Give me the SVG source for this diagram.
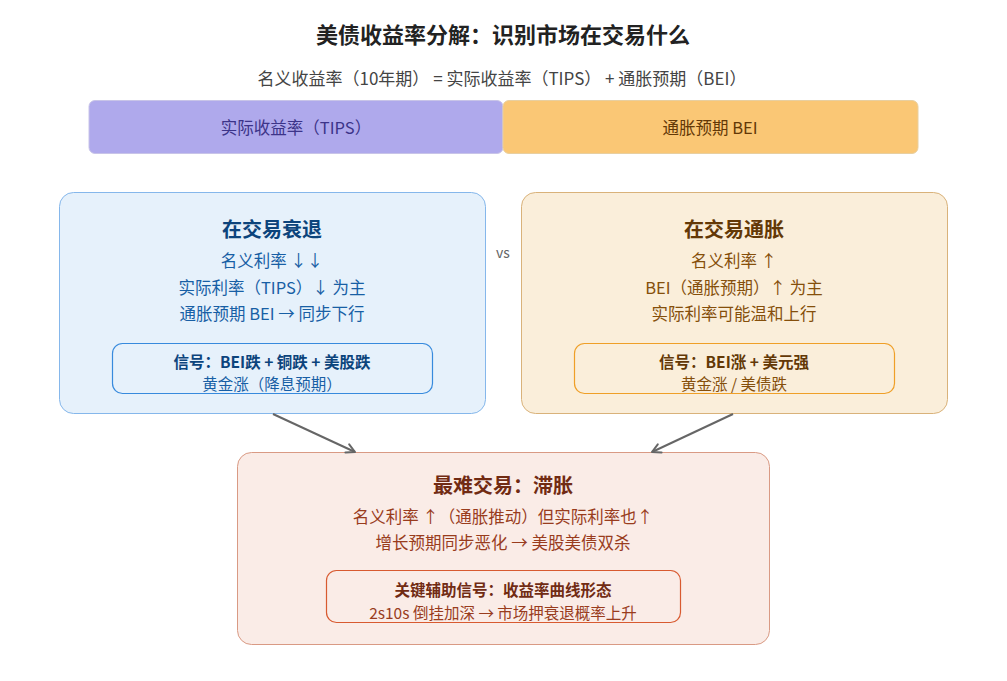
<svg xmlns="http://www.w3.org/2000/svg" width="1007" height="681" viewBox="0 0 1007 681">
<style>
text{font-family:"Noto Sans CJK SC","Noto Sans",sans-serif;text-anchor:middle;dominant-baseline:central}
.title{font-size:22px;font-weight:700;fill:#222}
.sub{font-size:17px;fill:#444}
.h{font-size:20px;font-weight:700}
.b{font-size:16.5px}
.s{font-size:15.5px}
.sb{font-size:15.5px;font-weight:700}
.blue text{fill:#185FA5}
.blue .h,.blue .sb{fill:#0C447C}
.amb text{fill:#854F0B}
.amb .h,.amb .sb{fill:#633806}
.red text{fill:#993C1D}
.red .h,.red .sb{fill:#712B13}
.conn{stroke:#666;stroke-width:2;fill:none}
</style>
<defs>
<marker id="arr" viewBox="0 0 12 12" refX="10" refY="6" markerWidth="12" markerHeight="12" orient="auto-start-reverse" markerUnits="userSpaceOnUse">
<path d="M1.5 1.5L10 6L1.5 10.5" fill="none" stroke="#666" stroke-width="2" stroke-linecap="round" stroke-linejoin="round"/>
</marker>
</defs>
<rect width="1007" height="681" fill="#fff"/>
<text class="title" x="503" y="33">美债收益率分解：识别市场在交易什么</text>
<text class="sub" x="502" y="77">名义收益率（10年期） = 实际收益率（TIPS） + 通胀预期（BEI）</text>
<g id="bar-tips">
<rect x="89" y="100.5" width="414" height="53" rx="6" fill="#AFA9EC" stroke="#C8C4E8" stroke-width="1"/>
<text x="296" y="127" style="font-size:16.5px;fill:#3C3489">实际收益率（TIPS）</text>
</g>
<g id="bar-bei">
<rect x="503" y="100.5" width="415" height="53" rx="6" fill="#FAC775" stroke="#E8CFA0" stroke-width="1"/>
<text x="710" y="127" style="font-size:16.5px;fill:#633806">通胀预期 BEI</text>
</g>
<text x="503" y="252" style="font-size:14px;fill:#666">vs</text>
<g id="recession" class="blue">
<rect x="59.5" y="192.5" width="426" height="221" rx="14" fill="#E6F1FB" stroke="#85B7EB" stroke-width="1"/>
<text class="h" x="272" y="228">在交易衰退</text>
<text class="b" x="272" y="260">名义利率 ↓↓</text>
<text class="b" x="272" y="287">实际利率（TIPS）↓ 为主</text>
<text class="b" x="272" y="313">通胀预期 BEI → 同步下行</text>
<rect x="112.5" y="343.5" width="320" height="50" rx="10" fill="#E6F1FB" stroke="#378ADD" stroke-width="1.2"/>
<text class="sb" x="272" y="361">信号：BEI跌 + 铜跌 + 美股跌</text>
<text class="s" x="272" y="383">黄金涨（降息预期）</text>
</g>
<g id="inflation" class="amb">
<rect x="521.5" y="192.5" width="426" height="221" rx="14" fill="#FAEEDA" stroke="#D9B27A" stroke-width="1"/>
<text class="h" x="734" y="228">在交易通胀</text>
<text class="b" x="734" y="260">名义利率 ↑</text>
<text class="b" x="734" y="287">BEI（通胀预期）↑ 为主</text>
<text class="b" x="734" y="313">实际利率可能温和上行</text>
<rect x="574.5" y="343.5" width="320" height="50" rx="10" fill="#FAEEDA" stroke="#EF9F27" stroke-width="1.2"/>
<text class="sb" x="734" y="361">信号：BEI涨 + 美元强</text>
<text class="s" x="734" y="383">黄金涨 / 美债跌</text>
</g>
<g id="stagflation" class="red">
<rect x="237.5" y="452.5" width="532" height="192" rx="14" fill="#FAECE7" stroke="#D99A84" stroke-width="1"/>
<text class="h" x="503" y="484">最难交易：滞胀</text>
<text class="b" x="503" y="516">名义利率 ↑（通胀推动）但实际利率也↑</text>
<text class="b" x="503" y="542">增长预期同步恶化 → 美股美债双杀</text>
<rect x="326.5" y="570.5" width="354" height="52" rx="10" fill="#FAECE7" stroke="#D85A30" stroke-width="1.2"/>
<text class="sb" x="503" y="589">关键辅助信号：收益率曲线形态</text>
<text class="s" x="503" y="612">2s10s 倒挂加深 → 市场押衰退概率上升</text>
</g>
<g id="connectors">
<line class="conn" x1="273" y1="414" x2="355" y2="452" marker-end="url(#arr)"/>
<line class="conn" x1="733" y1="414" x2="652" y2="452" marker-end="url(#arr)"/>
</g>
</svg>
